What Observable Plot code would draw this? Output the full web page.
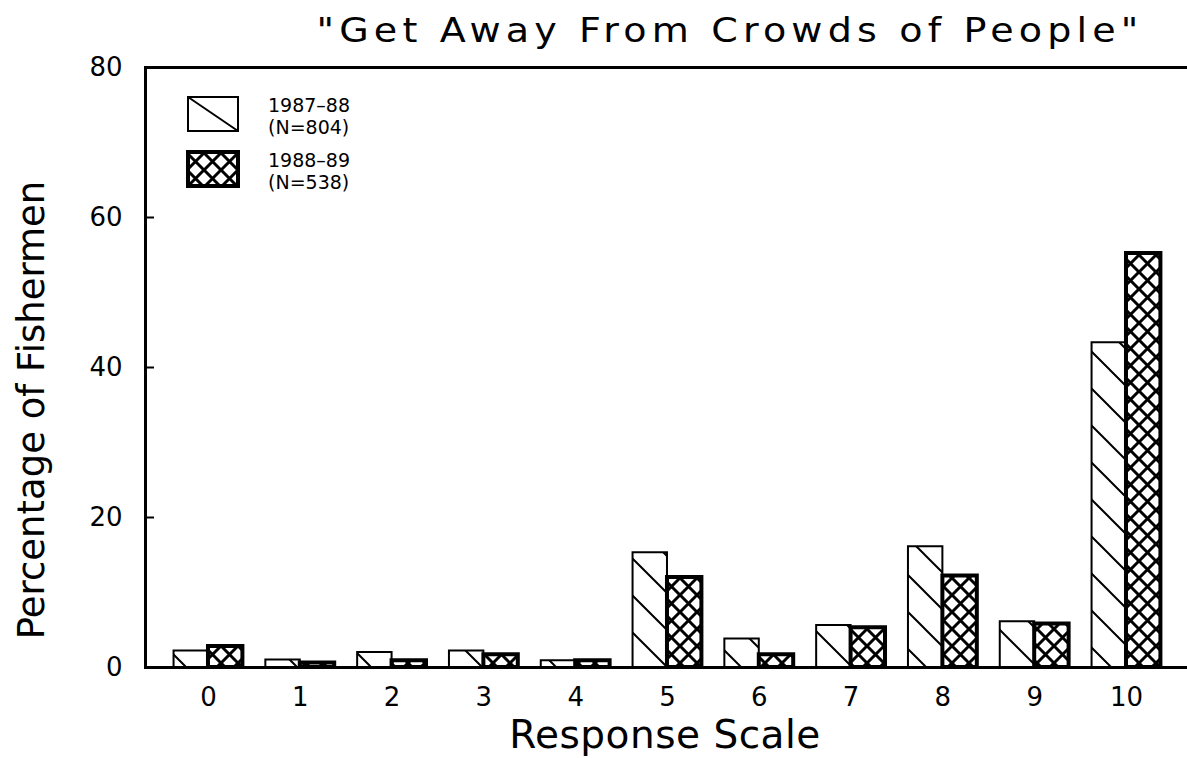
<!DOCTYPE html>
<html><head><meta charset="utf-8">
<script src="https://cdn.jsdelivr.net/npm/d3@7"></script>
<script src="https://cdn.jsdelivr.net/npm/@observablehq/plot@0.6"></script>
<style>
html,body{margin:0;padding:0;background:#fff;overflow:hidden;}
#wrap{position:relative;width:1187px;height:758px;font-family:"DejaVu Sans",sans-serif;}
#overlay{position:absolute;left:0;top:0;pointer-events:none;}
#chart svg{display:block;}
</style></head><body>
<div id="wrap">
  <div id="chart"></div>
  <svg id="overlay" width="1187" height="758" font-family="DejaVu Sans, sans-serif">
    <defs>
      <pattern id="hatchA" patternUnits="userSpaceOnUse" width="37" height="37">
        <rect width="37" height="37" fill="#fff"/>
        <path d="M0,0L37,37M-6,31L6,43M31,-6L43,6" stroke="#000" stroke-width="2"/>
      </pattern>
      <pattern id="hatchB" patternUnits="userSpaceOnUse" width="17" height="17">
        <rect width="17" height="17" fill="#fff"/>
        <path d="M0,0L17,17M17,0L0,17" stroke="#000" stroke-width="3"/>
      </pattern>
    </defs>
    <text id="title" transform="translate(730,42) scale(1.12,1)" text-anchor="middle" font-size="34" letter-spacing="4.6"></text>
    <text id="ylabel" transform="translate(44,410) rotate(-90)" text-anchor="middle" font-size="37"></text>
    <text id="xlabel" x="665" y="748" text-anchor="middle" font-size="39" letter-spacing="0.5"></text>
    <g id="legend"></g>
  </svg>
</div>
<script>
// ---- data ----
const categories = [0, 1, 2, 3, 4, 5, 6, 7, 8, 9, 10];
const seriesNames = ["1987-88", "1988-89"];
const seriesN = ["(N=804)", "(N=538)"];
const values1987 = [2.2, 1.0, 2.0, 2.2, 0.9, 15.3, 3.8, 5.6, 16.1, 6.1, 43.3];
const values1988 = [2.8, 0.6, 0.9, 1.7, 0.9, 12.0, 1.7, 5.3, 12.2, 5.8, 55.2];
const yTicks = [0, 20, 40, 60, 80];
const titleText = "\"Get Away From Crowds of People\"";
const xLabel = "Response Scale";
const yLabel = "Percentage of Fishermen";

// layout of the grouped bars, in category units
const barWidth = 0.375;
const rowsA = categories.map((c, i) => ({cat: c, v: values1987[i]}));
const rowsB = categories.map((c, i) => ({cat: c, v: values1988[i]}));

const chart = Plot.plot({
  width: 1187,
  height: 758,
  marginTop: 67,
  marginBottom: 91,
  marginLeft: 145,
  marginRight: -6,
  style: {fontFamily: "DejaVu Sans, sans-serif", fontSize: "26px", background: "white", color: "black"},
  x: {type: "linear", domain: [-0.686, 10.73], label: null},
  y: {domain: [0, 80], label: null},
  marks: [
    Plot.rectY(rowsA, {x1: d => d.cat - barWidth, x2: d => d.cat, y: "v", fill: "url(#hatchA)", stroke: "black", strokeWidth: 2}),
    Plot.rectY(rowsB, {x1: d => d.cat, x2: d => d.cat + barWidth, y: "v", fill: "url(#hatchB)", stroke: "black", strokeWidth: 4}),
    Plot.frame({stroke: "black", strokeWidth: 3}),
    Plot.axisY({ticks: yTicks, tickSize: -9, tickPadding: 32, label: null, strokeWidth: 2, fontSize: 26}),
    Plot.axisX({ticks: categories, anchor: "bottom", tickSize: 0, tickPadding: 20, label: null, fontSize: 26, tickFormat: d => String(d)})
  ]
});
document.getElementById("chart").appendChild(chart);

document.getElementById("title").textContent = titleText;
document.getElementById("xlabel").textContent = xLabel;
document.getElementById("ylabel").textContent = yLabel;

// legend
const lg = d3.select("#legend");
const legendRows = [
  {name: seriesNames[0], n: seriesN[0], y: 97},
  {name: seriesNames[1], n: seriesN[1], y: 152}
];
legendRows.forEach((r, i) => {
  if (i === 0) {
    lg.append("rect").attr("x", 188).attr("y", r.y).attr("width", 50).attr("height", 34)
      .attr("fill", "#fff").attr("stroke", "#000").attr("stroke-width", 2);
    lg.append("line").attr("x1", 188).attr("y1", r.y).attr("x2", 238).attr("y2", r.y + 34)
      .attr("stroke", "#000").attr("stroke-width", 2);
  } else {
    lg.append("rect").attr("x", 188).attr("y", r.y).attr("width", 50).attr("height", 34)
      .attr("fill", "url(#hatchB)").attr("stroke", "#000").attr("stroke-width", 4);
  }
  lg.append("text").attr("x", 268).attr("y", r.y + 15).attr("font-size", 19).text(r.name.replace("-", "\u2013"));
  lg.append("text").attr("x", 268).attr("y", r.y + 37).attr("font-size", 19).text(r.n);
});
</script>
</body></html>
